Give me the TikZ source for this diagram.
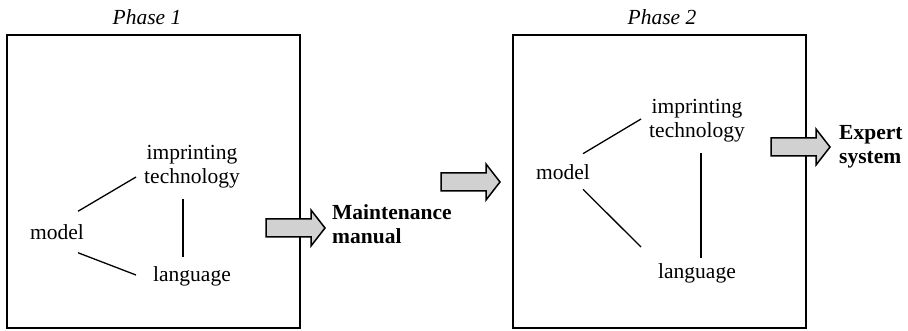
\documentclass[tikz,border=0pt]{standalone}
\usepackage{fontspec}
\setmainfont{Liberation Serif}
\usetikzlibrary{calc}
\begin{document}
\begin{tikzpicture}[x=1pt,y=-1pt,
  lbl/.style={inner sep=0pt,font=\fontsize{21.5}{24}\selectfont,align=center},
  outlbl/.style={inner sep=0pt,font=\fontsize{21.5}{24}\selectfont\bfseries,align=left,anchor=west},
  phaselbl/.style={inner sep=0pt,font=\fontsize{21.5}{24}\selectfont\itshape},
  phasebox/.style={draw,line width=2pt,minimum width=293pt,minimum height=293pt,inner sep=0pt},
  link/.style={line width=1.3pt},
  fatarrow/.pic={\draw[line width=1.5pt,fill=black!18,line join=miter]
     (0,-9) -- (45,-9) -- (45,-18) -- (59,0) -- (45,18) -- (45,9) -- (0,9) -- cycle;}]
\useasboundingbox (0,0) rectangle (908,331);

% Phase 1
\node[phaselbl] (ph1) at (147,17) {Phase 1};
\node[phasebox] (b1) at (153.5,181.5) {};
\node[lbl] (m1) at (57,232) {model};
\node[lbl] (it1) at (192,167) {imprinting\\technology};
\node[lbl] (la1) at (192,276) {language};
\draw[link] ($(m1.north east)+(-6,-13)$) -- ($(it1.west)+(-8,10)$);
\draw[link] ($(m1.south east)+(-6,13)$) -- ($(la1.west)+(-17,-1)$);
\draw[link] ($(it1.south)+(-9,10)$) -- ($(la1.north)+(-9,-9)$);

% Phase 2
\node[phaselbl] (ph2) at (662,17) {Phase 2};
\node[phasebox] (b2) at (659,181.5) {};
\node[lbl] (m2) at (563,172) {model};
\node[lbl] (it2) at (697,121) {imprinting\\technology};
\node[lbl] (la2) at (697,273) {language};
\draw[link] ($(m2.north east)+(-7,-10.6)$) -- ($(it2.west)+(-8,-2)$);
\draw[link] ($(m2.south east)+(-7,9.6)$) -- ($(la2.west)+(-17,-26)$);
\draw[link] ($(it2.south)+(4,10.4)$) -- ($(la2.north)+(4,-5.3)$);

% Flow arrows and outputs
\pic at (266,228) {fatarrow};
\node[outlbl] (out1) at (332,224.5) {Maintenance\\manual};
\pic at (441,182) {fatarrow};
\pic at (771,147) {fatarrow};
\node[outlbl] (out2) at (839,147) {Expert\\system};
\end{tikzpicture}
\end{document}
